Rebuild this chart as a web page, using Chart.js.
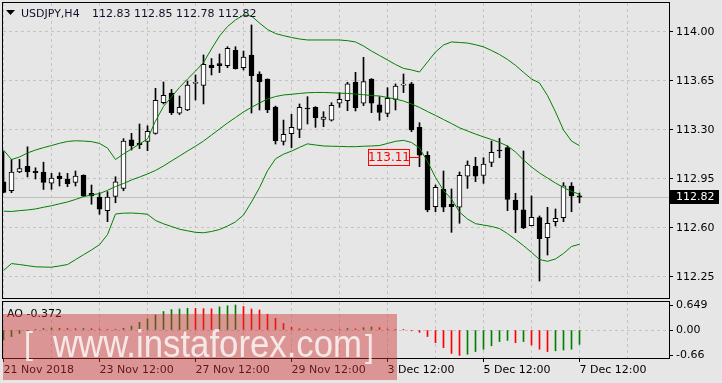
<!DOCTYPE html>
<html>
<head>
<meta charset="utf-8">
<script src="https://cdn.jsdelivr.net/npm/chart.js@4.4.0/dist/chart.umd.min.js"></script>
<style>
html, body { margin: 0; padding: 0; background: #e6e6e6; }
#wrap { position: relative; width: 722px; height: 383px; overflow: hidden; }
canvas { position: absolute; left: 0; }
#price { top: 0; }
#ao { top: 300px; }
</style>
</head>
<body>
<div id="wrap">
  <canvas id="price" width="722" height="300"></canvas>
  <canvas id="ao" width="722" height="83"></canvas>
</div>
<script>
// USDJPY H4 candles, bollinger bands and awesome oscillator

const symbol = 'USDJPY,H4';
const timeLabels = ['21 Nov 2018', '23 Nov 12:00', '27 Nov 12:00', '29 Nov 12:00', '3 Dec 12:00', '5 Dec 12:00', '7 Dec 12:00'];
const priceTicks = [112.25, 112.60, 112.95, 113.30, 113.65, 114.00];
const aoTicks = [0.649, 0, -0.66];
const markerPrice = 113.11;
const markerBar = 52;

const opens = [
  112.930, 112.866, 113.000, 113.040, 113.005, 113.000, 112.920, 112.970, 112.950, 112.926,
  112.976, 112.848, 112.820, 112.724, 112.826, 112.883, 113.229, 113.207, 113.219, 113.276,
  113.495, 113.564, 113.420, 113.443, 113.633, 113.619, 113.764, 113.774, 113.760, 113.869,
  113.745, 113.836, 113.700, 113.664, 113.464, 113.219, 113.274, 113.305, 113.452, 113.462,
  113.376, 113.371, 113.491, 113.509, 113.643, 113.491, 113.664, 113.479, 113.419, 113.519,
  113.620, 113.629, 113.319, 113.119, 112.752, 112.876, 112.769, 112.748, 112.971, 113.041,
  112.976, 113.069, 113.155, 113.174, 112.800, 112.729, 112.617, 112.674, 112.531, 112.645,
  112.674, 112.900, 112.830
];
const highs = [
  113.145, 113.090, 113.090, 113.180, 113.030, 113.070, 112.990, 112.995, 112.990, 113.007,
  112.980, 112.907, 112.852, 112.860, 112.966, 113.238, 113.276, 113.343, 113.330, 113.598,
  113.643, 113.590, 113.543, 113.650, 113.693, 113.836, 113.810, 113.843, 113.895, 113.895,
  113.864, 114.050, 113.716, 113.665, 113.471, 113.371, 113.412, 113.486, 113.538, 113.467,
  113.431, 113.495, 113.567, 113.641, 113.712, 113.819, 113.667, 113.538, 113.602, 113.629,
  113.700, 113.640, 113.352, 113.145, 112.907, 113.007, 112.879, 113.000, 113.079, 113.105,
  113.102, 113.221, 113.240, 113.186, 112.848, 113.150, 112.829, 112.686, 112.748, 112.736,
  112.924, 112.924, 112.850
];
const lows = [
  112.850, 112.852, 112.995, 112.965, 112.950, 112.875, 112.876, 112.900, 112.895, 112.900,
  112.824, 112.770, 112.698, 112.645, 112.780, 112.866, 113.157, 113.167, 113.152, 113.270,
  113.486, 113.410, 113.410, 113.438, 113.514, 113.486, 113.693, 113.710, 113.745, 113.735,
  113.729, 113.421, 113.443, 113.424, 113.200, 113.193, 113.174, 113.245, 113.343, 113.319,
  113.324, 113.364, 113.462, 113.438, 113.436, 113.474, 113.424, 113.369, 113.395, 113.443,
  113.567, 113.288, 113.038, 112.716, 112.716, 112.716, 112.569, 112.634, 112.883, 112.931,
  112.919, 113.038, 113.102, 112.724, 112.567, 112.595, 112.615, 112.221, 112.407, 112.614,
  112.645, 112.716, 112.780
];
const closes = [
  112.855, 113.000, 113.025, 113.000, 112.995, 112.925, 112.957, 112.952, 112.917, 112.970,
  112.830, 112.830, 112.735, 112.820, 112.930, 113.220, 113.188, 113.196, 113.290, 113.512,
  113.548, 113.424, 113.462, 113.620, 113.635, 113.769, 113.745, 113.760, 113.883, 113.738,
  113.821, 113.688, 113.645, 113.443, 113.224, 113.269, 113.319, 113.462, 113.450, 113.388,
  113.393, 113.476, 113.519, 113.629, 113.459, 113.645, 113.491, 113.426, 113.526, 113.614,
  113.622, 113.300, 113.121, 112.729, 112.891, 112.748, 112.752, 112.976, 113.050, 112.971,
  113.057, 113.141, 113.150, 112.805, 112.729, 112.600, 112.676, 112.524, 112.633, 112.669,
  112.902, 112.829, 112.820
];

const bbUpper = [
  113.157, 113.089, 113.107, 113.136, 113.157, 113.174, 113.189, 113.205, 113.218, 113.223,
  113.221, 113.217, 113.204, 113.171, 113.089, 113.129, 113.164, 113.200, 113.236, 113.364,
  113.468, 113.536, 113.604, 113.664, 113.721, 113.782, 113.879, 113.971, 114.039, 114.086,
  114.121, 114.114, 114.064, 114.018, 113.989, 113.974, 113.961, 113.950, 113.943, 113.943,
  113.943, 113.943, 113.943, 113.938, 113.929, 113.900, 113.864, 113.832, 113.800, 113.768,
  113.740, 113.729, 113.714, 113.786, 113.857, 113.907, 113.929, 113.925, 113.921, 113.909,
  113.894, 113.868, 113.839, 113.804, 113.762, 113.712, 113.664, 113.636, 113.546, 113.429,
  113.300, 113.221, 113.188
];
const bbMiddle = [
  112.720, 112.718, 112.724, 112.729, 112.736, 112.748, 112.759, 112.773, 112.786, 112.804,
  112.824, 112.836, 112.846, 112.869, 112.896, 112.918, 112.943, 112.964, 112.986, 113.011,
  113.043, 113.079, 113.114, 113.150, 113.184, 113.221, 113.264, 113.307, 113.350, 113.389,
  113.429, 113.462, 113.493, 113.521, 113.539, 113.550, 113.555, 113.561, 113.566, 113.568,
  113.568, 113.566, 113.563, 113.561, 113.557, 113.552, 113.546, 113.543, 113.532, 113.521,
  113.507, 113.486, 113.461, 113.432, 113.404, 113.375, 113.346, 113.316, 113.293, 113.271,
  113.251, 113.232, 113.211, 113.186, 113.143, 113.086, 113.036, 112.993, 112.957, 112.921,
  112.889, 112.861, 112.841
];
const bbLower = [
  112.296, 112.346, 112.339, 112.331, 112.323, 112.321, 112.320, 112.329, 112.339, 112.374,
  112.409, 112.443, 112.481, 112.553, 112.700, 112.706, 112.707, 112.704, 112.698, 112.654,
  112.630, 112.611, 112.591, 112.580, 112.569, 112.566, 112.575, 112.589, 112.614, 112.644,
  112.693, 112.786, 112.888, 113.009, 113.094, 113.127, 113.149, 113.176, 113.201, 113.193,
  113.186, 113.184, 113.183, 113.181, 113.181, 113.184, 113.186, 113.189, 113.204, 113.219,
  113.226, 113.211, 113.171, 113.075, 112.961, 112.868, 112.807, 112.714, 112.664, 112.631,
  112.621, 112.611, 112.596, 112.560, 112.518, 112.474, 112.426, 112.375, 112.362, 112.379,
  112.418, 112.468, 112.484
];

const aoValues = [
  -0.26, -0.17, -0.09, -0.03, 0.01, 0.04, 0.05, 0.045, 0.04, 0.035,
  0.04, 0.035, 0.02, 0.015, 0.02, 0.045, 0.10, 0.20, 0.29, 0.39,
  0.48, 0.53, 0.545, 0.565, 0.56, 0.555, 0.55, 0.60, 0.63, 0.649,
  0.61, 0.545, 0.52, 0.41, 0.30, 0.17, 0.07, 0.03, 0.025, 0.02,
  0.015, 0.02, 0.015, 0.04, 0.03, 0.06, 0.08, 0.06, 0.02, 0.01,
  0.005, -0.02, -0.06, -0.17, -0.33, -0.46, -0.61, -0.66, -0.63, -0.56,
  -0.50, -0.41, -0.30, -0.27, -0.33, -0.30, -0.39, -0.50, -0.56, -0.54,
  -0.52, -0.50, -0.372
];

const GREEN = '#008000';
const RED = '#ff0000';
const GRID = '#c4c4c4';
const X_MIN = -0.0625, X_MAX = 83.1875;

Chart.defaults.font.family = '"DejaVu Sans", sans-serif';
Chart.defaults.font.size = 11;
Chart.defaults.color = '#000';

const last = closes.length - 1;
const pts = arr => arr.map((v, i) => ({ x: i, y: v }));

function dayTicks(scale) {
    const t = [];
    for (let v = 0; v <= 78; v += 6) t.push({ value: v });
    scale.ticks = t;
}
// keep the plot area where the layout padding puts it
function fixWidth(s) { s.width = 53; s.paddingTop = 0; s.paddingBottom = 0; }
function fixHeight(h) {
    return s => { s.height = h; s.paddingLeft = 0; s.paddingRight = 0; };
}

// frame around the plot area
const framePlugin = {
    id: 'frame',
    afterDatasetsDraw(chart) {
        const a = chart.chartArea, ctx = chart.ctx;
        ctx.save();
        ctx.strokeStyle = '#000';
        ctx.lineWidth = 1;
        ctx.strokeRect(a.left - 0.5, a.top - 0.5, a.right - a.left + 1, a.bottom - a.top + 1);
        ctx.restore();
    }
};

const pricePlugin = {
    id: 'priceExtras',
    beforeDatasetsDraw(chart) {
        const a = chart.chartArea, ctx = chart.ctx;
        const y = Math.round(chart.scales.y.getPixelForValue(closes[last])) + 0.5;
        ctx.save();
        ctx.strokeStyle = '#c0c0c0';
        ctx.lineWidth = 1;
        ctx.beginPath();
        ctx.moveTo(a.left, y);
        ctx.lineTo(a.right, y);
        ctx.stroke();
        ctx.restore();
    },
    afterDraw(chart) {
        const a = chart.chartArea, ctx = chart.ctx;
        const ys = chart.scales.y, xs = chart.scales.x;
        ctx.save();
        // header
        ctx.fillStyle = '#000';
        ctx.beginPath();
        ctx.moveTo(6, 10); ctx.lineTo(15, 10); ctx.lineTo(10.5, 15); ctx.closePath();
        ctx.fill();
        ctx.font = '11px "DejaVu Sans"';
        ctx.fillStyle = '#10102a';
        ctx.textBaseline = 'alphabetic';
        ctx.fillText(symbol, 21, 17);
        const ohlc = [opens[last], highs[last], lows[last], closes[last]].map(v => v.toFixed(2)).join(' ');
        ctx.fillText(ohlc, 92, 17);

        // current price box
        const py = Math.round(ys.getPixelForValue(closes[last]));
        ctx.fillStyle = '#000';
        ctx.fillRect(a.right + 1, py - 7, 49, 14);
        ctx.fillStyle = '#fff';
        ctx.textBaseline = 'middle';
        ctx.fillText(closes[last].toFixed(2), a.right + 7, py + 0.5);

        // price marker label
        const my = Math.round(ys.getPixelForValue(markerPrice)) + 0.5;
        const mx = Math.round(xs.getPixelForValue(markerBar));
        ctx.strokeStyle = RED;
        ctx.lineWidth = 1;
        ctx.beginPath();
        ctx.moveTo(mx - 11, my); ctx.lineTo(mx, my);
        ctx.stroke();
        ctx.fillStyle = '#e6e6e6';
        ctx.fillRect(mx - 52, my - 8, 41, 16);
        ctx.strokeRect(mx - 51.5, my - 8, 41, 16);
        ctx.fillStyle = RED;
        ctx.font = '12px "DejaVu Sans"';
        ctx.textAlign = 'center';
        ctx.fillText(markerPrice.toFixed(2), mx - 31, my + 0.5);
        ctx.restore();
    }
};

new Chart(document.getElementById('price'), {
    type: 'bar',
    data: {
        datasets: [
            { type: 'line', label: 'BB upper', data: pts(bbUpper), borderColor: GREEN, borderWidth: 1, pointRadius: 0, tension: 0, order: 0 },
            { type: 'line', label: 'BB middle', data: pts(bbMiddle), borderColor: GREEN, borderWidth: 1, pointRadius: 0, tension: 0, order: 0 },
            { type: 'line', label: 'BB lower', data: pts(bbLower), borderColor: GREEN, borderWidth: 1, pointRadius: 0, tension: 0, order: 0 },
            {
                label: 'wick',
                data: highs.map((h, i) => ({ x: i, y: [lows[i], h] })),
                backgroundColor: '#000',
                barThickness: 1, maxBarThickness: 1, grouped: false, order: 2
            },
            {
                label: 'body',
                data: opens.map((o, i) => ({ x: i, y: [o, closes[i]] })),
                backgroundColor: c => closes[c.dataIndex] >= opens[c.dataIndex] ? '#fff' : '#000',
                borderColor: '#000', borderWidth: 1, borderSkipped: false,
                barThickness: 5, maxBarThickness: 5, minBarLength: 1, grouped: false, order: 1
            }
        ]
    },
    options: {
        responsive: false,
        animation: false,
        devicePixelRatio: 1,
        layout: { padding: { left: 3, top: 3, right: 0, bottom: 2 } },
        plugins: { legend: { display: false }, tooltip: { enabled: false } },
        scales: {
            x: {
                type: 'linear', min: X_MIN, max: X_MAX, offset: false,
                afterBuildTicks: dayTicks,
                afterFit: fixHeight(0),
                ticks: { display: false },
                grid: { offset: false, color: GRID, drawTicks: false },
                border: { display: false, dash: [3, 3] }
            },
            y: {
                position: 'right', min: 112.1, max: 114.2071, beginAtZero: false,
                afterBuildTicks: s => { s.ticks = priceTicks.map(v => ({ value: v })); },
                afterFit: fixWidth,
                ticks: { padding: 3, callback: v => v.toFixed(2) },
                grid: { color: GRID, tickLength: 4, tickColor: '#000', tickBorderDash: [] },
                border: { display: false, dash: [3, 3] }
            }
        }
    },
    plugins: [framePlugin, pricePlugin]
});

const aoPlugin = {
    id: 'aoExtras',
    afterDraw(chart) {
        const ctx = chart.ctx;
        ctx.save();
        ctx.font = '11px "DejaVu Sans"';
        ctx.fillStyle = '#000';
        ctx.fillText('AO ' + aoValues[last].toFixed(3), 7, 16.5);

        // watermark
        ctx.fillStyle = 'rgba(208,52,52,0.45)';
        ctx.fillRect(3, 14, 394, 66);
        ctx.fillStyle = 'rgba(255,255,255,0.78)';
        ctx.font = '32px "Liberation Sans"';
        ctx.fillText('[', 24, 54);
        ctx.fillText(']', 365, 57);
        ctx.font = '38px "Liberation Sans"';
        ctx.fillText('www.instaforex.com', 53, 57, 309);
        ctx.restore();
    }
};

new Chart(document.getElementById('ao'), {
    type: 'bar',
    data: {
        datasets: [{
            label: 'AO',
            data: pts(aoValues),
            backgroundColor: c => (c.dataIndex === 0 || aoValues[c.dataIndex] > aoValues[c.dataIndex - 1]) ? GREEN : RED,
            barThickness: 1, maxBarThickness: 1, grouped: false
        }]
    },
    options: {
        responsive: false,
        animation: false,
        devicePixelRatio: 1,
        layout: { padding: { left: 3, top: 2, right: 0, bottom: 0 } },
        plugins: { legend: { display: false }, tooltip: { enabled: false } },
        scales: {
            x: {
                type: 'linear', min: X_MIN, max: X_MAX, offset: false,
                afterBuildTicks: dayTicks,
                afterFit: fixHeight(25),
                ticks: {
                    autoSkip: false, maxRotation: 0, align: 'start', padding: 2,
                    callback: v => v % 12 === 0 ? timeLabels[v / 12] : ''
                },
                grid: {
                    offset: false, color: GRID, tickLength: 4, tickBorderDash: [],
                    tickColor: c => c.tick && c.tick.value % 12 === 0 ? '#000' : 'rgba(0,0,0,0)'
                },
                border: { display: false, dash: [3, 3] }
            },
            y: {
                position: 'right', min: -0.727, max: 0.727, beginAtZero: false,
                afterBuildTicks: s => { s.ticks = aoTicks.map(v => ({ value: v })); },
                afterFit: fixWidth,
                ticks: { padding: 3, callback: v => v === 0 ? '0.00' : String(v) },
                grid: {
                    color: c => c.tick && c.tick.value === 0 ? GRID : 'rgba(0,0,0,0)',
                    tickLength: 4, tickColor: '#000', tickBorderDash: []
                },
                border: { display: false, dash: [3, 3] }
            }
        }
    },
    plugins: [framePlugin, aoPlugin]
});
</script>
</body>
</html>
